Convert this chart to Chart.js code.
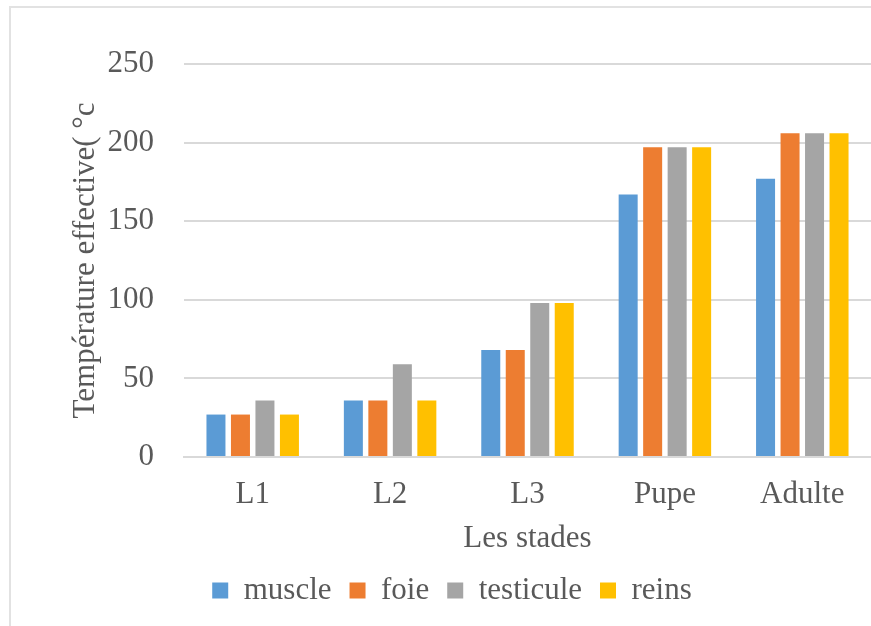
<!DOCTYPE html>
<html>
<head>
<meta charset="utf-8">
<title>Température effective</title>
<script src="https://cdn.jsdelivr.net/npm/chart.js@4/dist/chart.umd.min.js"></script>
<style>
  html, body { margin: 0; padding: 0; background: #fff; overflow: hidden; }
  #wrap { position: relative; width: 871px; height: 626px; }
  #frame {
    position: absolute; left: 9px; top: 6px; width: 900px; height: 700px;
    border: 2px solid #e2e2e2; pointer-events: none;
  }
</style>
</head>
<body>
<div id="wrap">
  <canvas id="chart" width="871" height="626"></canvas>
  <div id="frame"></div>
</div>
<script>
// Data
const stades = ['L1', 'L2', 'L3', 'Pupe', 'Adulte'];
const muscle = [27, 36, 68, 167, 177];
const foie = [27, 36, 68, 197, 206];
const testicule = [36, 59, 98, 197, 206];
const reins = [27, 36, 98, 197, 206];
const yTicks = [0, 50, 100, 150, 200, 250];

const font = { family: '"Liberation Serif", "Times New Roman", serif', size: 31 };
const textColor = '#595959';
const gridColor = '#d9d9d9';

function barSet(label, data, color) {
  return {
    label: label,
    data: data,
    backgroundColor: color,
    borderWidth: 0,
    categoryPercentage: 0.713,
    barPercentage: 0.776
  };
}

const chart = new Chart(document.getElementById('chart'), {
  type: 'bar',
  data: {
    labels: stades,
    datasets: [
      barSet('muscle', muscle, '#5b9bd5'),
      barSet('foie', foie, '#ed7d31'),
      barSet('testicule', testicule, '#a5a5a5'),
      barSet('reins', reins, '#ffc000')
    ]
  },
  options: {
    responsive: false,
    animation: false,
    layout: { padding: { left: 33, right: 0, top: 64, bottom: 10 } },
    plugins: {
      tooltip: { enabled: false },
      legend: {
        position: 'bottom',
        labels: {
          font: font,
          color: textColor,
          boxWidth: 16,
          boxHeight: 16,
          padding: 18
        }
      }
    },
    scales: {
      x: {
        grid: { display: false, drawTicks: false },
        border: { color: gridColor, width: 2 },
        ticks: { font: font, color: textColor, padding: 19 },
        title: {
          display: true,
          text: 'Les stades',
          font: font,
          color: textColor,
          padding: { top: 0, bottom: 0 }
        },
        afterFit: function (scale) { scale.height = 100; }
      },
      y: {
        min: yTicks[0],
        max: yTicks[yTicks.length - 1],
        grid: { color: gridColor, lineWidth: 2, drawTicks: false },
        border: { display: false },
        ticks: {
          stepSize: yTicks[1] - yTicks[0],
          font: font,
          color: textColor,
          padding: 30
        },
        title: {
          display: true,
          text: 'Température effective( °c',
          font: font,
          color: textColor,
          padding: { top: 34, bottom: 0 }
        },
        afterFit: function (scale) { scale.width = 151; }
      }
    }
  }
});
</script>
</body>
</html>
